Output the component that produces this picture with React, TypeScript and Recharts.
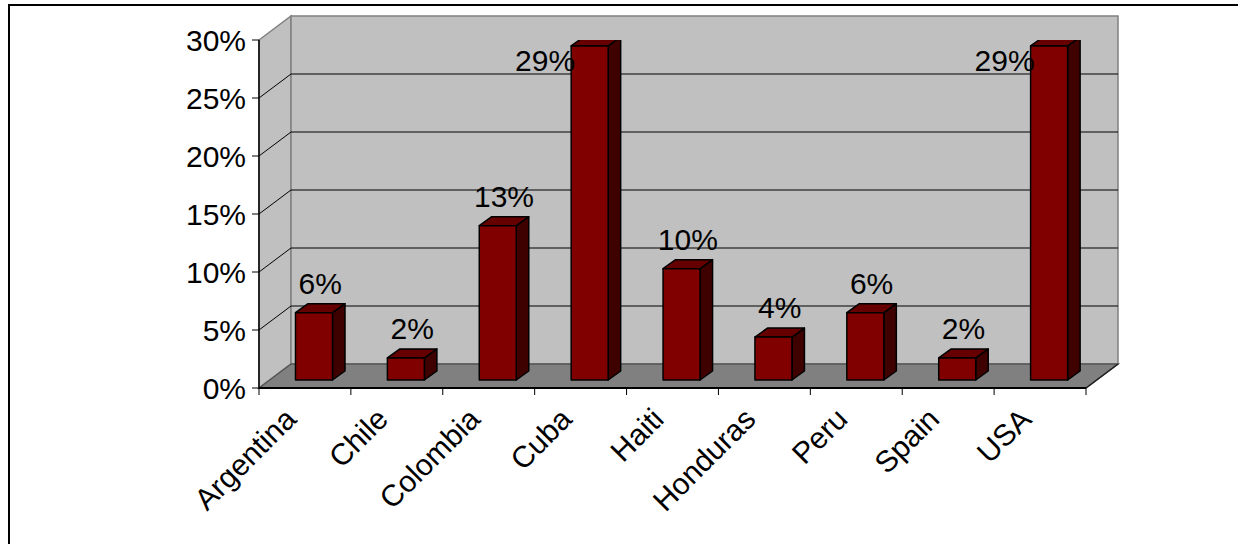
import React from 'react';
import { BarChart, Bar, XAxis, YAxis, CartesianGrid, LabelList } from 'recharts';

const countries = ['Argentina', 'Chile', 'Colombia', 'Cuba', 'Haiti', 'Honduras', 'Peru', 'Spain', 'USA'];
const shares = [0.058, 0.019, 0.133, 0.288, 0.096, 0.037, 0.058, 0.019, 0.288];
const yTicks = [0, 0.05, 0.1, 0.15, 0.2, 0.25, 0.3];

const data = countries.map((c, i) => ({ country: c, share: shares[i] }));

const W = 1238;
const H = 544;
const Y_AXIS_W = 80;
const X_AXIS_H = 100;
const MARGIN = { top: 40, right: 152, bottom: 56, left: 179 };
const PLOT_L = MARGIN.left + Y_AXIS_W;
const PLOT_R = W - MARGIN.right;
const PLOT_T = MARGIN.top;
const PLOT_B = H - MARGIN.bottom - X_AXIS_H;
const DEPTH_X = 32;
const DEPTH_Y = -24;
const BAR_SHIFT_X = 9.5;
const BAR_SHIFT_Y = -8;
const BAR_DX = 12.5;
const BAR_DY = -9;
const FONT = '"Liberation Sans", Arial, sans-serif';
const FS = 30;

const pct = (v: number) => `${Math.round(v * 100)}%`;

const GridLine = (props: any) => {
  const { x1, x2, y1 } = props;
  if (Math.abs(y1 - PLOT_B) < 1 || Math.abs(y1 - PLOT_T) < 1) return <g />;
  return (
    <g>
      <line x1={x1} y1={y1} x2={x1 + DEPTH_X} y2={y1 + DEPTH_Y} stroke="#000" strokeWidth={1} />
      <line x1={x1 + DEPTH_X} y1={y1 + DEPTH_Y} x2={x2 + DEPTH_X} y2={y1 + DEPTH_Y} stroke="#000" strokeWidth={1} />
    </g>
  );
};

const Bar3D = (props: any) => {
  const { x, y, width, height } = props;
  if (width == null || height == null) return null;
  const fx = x + BAR_SHIFT_X;
  const fy = y + BAR_SHIFT_Y;
  const top = `${fx},${fy} ${fx + BAR_DX},${fy + BAR_DY} ${fx + width + BAR_DX},${fy + BAR_DY} ${fx + width},${fy}`;
  const side = `${fx + width},${fy} ${fx + width + BAR_DX},${fy + BAR_DY} ${fx + width + BAR_DX},${fy + height + BAR_DY} ${fx + width},${fy + height}`;
  return (
    <g stroke="#000" strokeWidth={1.5} strokeLinejoin="round">
      <polygon points={side} fill="#3f0000" />
      <polygon points={top} fill="#660000" />
      <rect x={fx} y={fy} width={width} height={height} fill="#800000" />
    </g>
  );
};

const ValueLabel = (props: any) => {
  const { x, y, width, value } = props;
  const fx = x + BAR_SHIFT_X;
  const fy = y + BAR_SHIFT_Y;
  const txt = pct(value);
  if (fy - 20 - 22 < PLOT_T + DEPTH_Y) {
    return (
      <text x={fx + 4} y={fy + 25} textAnchor="end" fontSize={FS} fontFamily={FONT} fill="#000">
        {txt}
      </text>
    );
  }
  return (
    <text x={fx + (width + BAR_DX) / 2} y={fy - 19} textAnchor="middle" fontSize={FS} fontFamily={FONT} fill="#000">
      {txt}
    </text>
  );
};

const XTick = (props: any) => {
  const { x, payload, index } = props;
  const band = (PLOT_R - PLOT_L) / countries.length;
  const ax = x - 7;
  const ay = PLOT_B + 33;
  const last = index === countries.length - 1;
  return (
    <g>
      <line x1={x - band / 2} y1={PLOT_B} x2={x - band / 2} y2={PLOT_B + 7} stroke="#000" strokeWidth={1} />
      {last && <line x1={x + band / 2} y1={PLOT_B} x2={x + band / 2} y2={PLOT_B + 7} stroke="#000" strokeWidth={1} />}
      <text x={ax} y={ay} textAnchor="end" transform={`rotate(-45, ${ax}, ${ay})`} fontSize={FS} fontFamily={FONT} fill="#000">
        {payload.value}
      </text>
    </g>
  );
};

const Background = () => {
  const bx1 = PLOT_L + DEPTH_X;
  const by1 = PLOT_T + DEPTH_Y;
  const bx2 = PLOT_R + DEPTH_X;
  const by2 = PLOT_B + DEPTH_Y;
  return (
    <svg width={W} height={H} style={{ position: 'absolute', left: 0, top: 0 }}>
      <rect x={9} y={5} width={W + 20} height={H + 20} fill="#fff" stroke="#000" strokeWidth={2} />
      <polygon points={`${PLOT_L},${PLOT_T} ${bx1},${by1} ${bx1},${by2} ${PLOT_L},${PLOT_B}`} fill="#c0c0c0" stroke="#808080" strokeWidth={1.5} />
      <rect x={bx1} y={by1} width={bx2 - bx1} height={by2 - by1} fill="#c0c0c0" stroke="#808080" strokeWidth={1.5} />
      <polygon points={`${PLOT_L},${PLOT_B} ${bx1},${by2} ${bx2},${by2} ${PLOT_R},${PLOT_B}`} fill="#808080" stroke="#555" strokeWidth={1.5} />
      <line x1={PLOT_R} y1={PLOT_B} x2={bx2} y2={by2} stroke="#222" strokeWidth={1.5} />
    </svg>
  );
};

export default function App() {
  return (
    <div style={{ position: 'absolute', left: 0, top: 0, width: W, height: H, background: '#fff' }}>
      <Background />
      <div style={{ position: 'absolute', left: 0, top: 0 }}>
        <BarChart width={W} height={H} data={data} margin={MARGIN}>
          <CartesianGrid vertical={false} horizontal={GridLine} stroke="#000" />
          <XAxis
            dataKey="country"
            height={X_AXIS_H}
            axisLine={{ stroke: '#000', strokeWidth: 2 }}
            tickLine={false}
            tick={<XTick />}
            interval={0}
          />
          <YAxis
            width={Y_AXIS_W}
            domain={[0, 0.3]}
            ticks={yTicks}
            tickFormatter={pct}
            axisLine={{ stroke: '#000', strokeWidth: 1.5 }}
            tickLine={{ stroke: '#000', strokeWidth: 1 }}
            tickSize={7}
            tickMargin={6}
            tick={{ fontSize: FS, fontFamily: FONT, fill: '#000' }}
            allowDataOverflow
          />
          <Bar dataKey="share" barSize={37} shape={<Bar3D />} isAnimationActive={false}>
            <LabelList dataKey="share" content={<ValueLabel />} />
          </Bar>
        </BarChart>
      </div>
    </div>
  );
}
